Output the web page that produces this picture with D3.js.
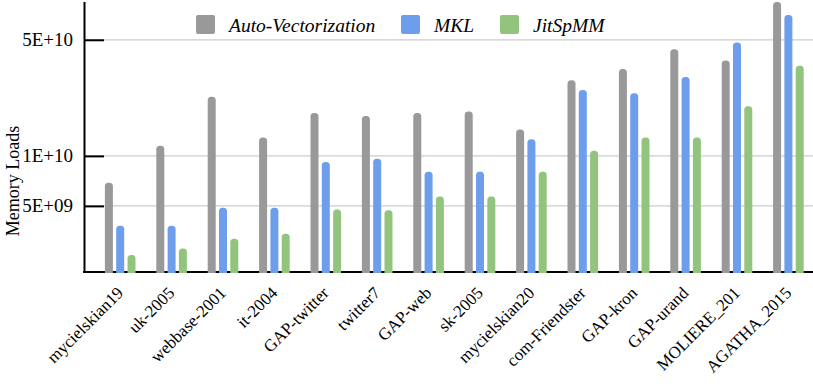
<!DOCTYPE html>
<html><head><meta charset="utf-8">
<script src="https://cdn.jsdelivr.net/npm/d3@7"></script>
<style>body{margin:0;background:#fff}svg{display:block}</style>
</head><body>
<svg id="c" width="813" height="386"></svg>
<script>
const categories = ["mycielskian19","uk-2005","webbase-2001","it-2004","GAP-twitter","twitter7","GAP-web","sk-2005","mycielskian20","com-Friendster","GAP-kron","GAP-urand","MOLIERE_201","AGATHA_2015"];
const seriesNames = ["Auto-Vectorization","MKL","JitSpMM"];
const autoVec = [6.9e9,1.15e10,2.27e10,1.29e10,1.81e10,1.74e10,1.81e10,1.85e10,1.44e10,2.85e10,3.33e10,4.38e10,3.75e10,8.44e10];
const mkl     = [3.8e9,3.8e9,4.88e9,4.88e9,9.18e9,9.62e9,8.03e9,8.03e9,1.26e10,2.49e10,2.38e10,2.98e10,4.81e10,7.05e10];
const jit     = [2.53e9,2.77e9,3.17e9,3.4e9,4.76e9,4.7e9,5.7e9,5.7e9,8.03e9,1.075e10,1.29e10,1.29e10,1.99e10,3.49e10];
const yTicks = [5e9,1e10,5e10];
const yTickLabels = ["5E+09","1E+10","5E+10"];
const colors = ["#999999","#6d9eeb","#93c47d"];
const yTitle = "Memory Loads";

(function(){
const svg = d3.select("#c");
const font = "'Liberation Serif','Times New Roman',serif";
const mLeft = 84, mBottom = 272, mTop = 1.5, mRight = 813;

const y = d3.scaleLog().domain([2e9, 8.5e10]).range([mBottom, mTop]);
const x0 = d3.scaleBand().domain(categories).range([94.5, 94.5 + 14*51.4]).paddingInner(0).paddingOuter(0);
const x1 = d3.scaleBand().domain(seriesNames).range([-15.3, 15.3]).paddingInner(0.292).paddingOuter(0);
const allSeries = [autoVec, mkl, jit];

// gridlines
svg.append("g").selectAll("line").data(yTicks).join("line")
  .attr("x1", mLeft).attr("x2", mRight)
  .attr("y1", d => y(d)).attr("y2", d => y(d))
  .attr("stroke", "#cccccc").attr("stroke-width", 1.3);

// y axis
const yAxis = d3.axisLeft(y).tickValues(yTicks).tickFormat((d,i) => yTickLabels[i]).tickSizeInner(-20).tickSizeOuter(0).tickPadding(11);
const gy = svg.append("g").attr("transform", `translate(${mLeft},0)`).call(yAxis);
gy.select(".domain").attr("stroke", "#000").attr("stroke-width", 2);
gy.selectAll(".tick line").attr("stroke", "#000").attr("stroke-width", 2);
gy.selectAll(".tick text").attr("x", -11).attr("font-family", font).attr("font-size", 19).attr("fill", "#000");

// x axis line
svg.append("line").attr("x1", mLeft - 1).attr("x2", mRight).attr("y1", mBottom).attr("y2", mBottom)
  .attr("stroke", "#000").attr("stroke-width", 2);

// bars
const r = 3.5;
function barPath(xl, w, yt, yb) {
  return `M${xl},${yb}L${xl},${yt+r}Q${xl},${yt} ${xl+r},${yt}L${xl+w-r},${yt}Q${xl+w},${yt} ${xl+w},${yt+r}L${xl+w},${yb}Z`;
}
const groups = svg.append("g").selectAll("g").data(categories).join("g")
  .attr("transform", d => `translate(${x0(d) + x0.bandwidth()/2},0)`);
groups.selectAll("path").data((d, i) => seriesNames.map((s, j) => ({s, j, v: allSeries[j][i]}))).join("path")
  .attr("d", d => barPath(x1(d.s), x1.bandwidth(), y(d.v), mBottom + 1))
  .attr("fill", d => colors[d.j]);

// x labels
svg.append("g").selectAll("text").data(categories).join("text")
  .attr("transform", d => `translate(${x0(d) + x0.bandwidth()/2 + 4},${mBottom + 22}) rotate(-45)`)
  .attr("text-anchor", "end")
  .attr("font-family", font).attr("font-size", 17).attr("fill", "#000")
  .text(d => d);

// y title
svg.append("text").attr("transform", "translate(19,181) rotate(-90)")
  .attr("text-anchor", "middle").attr("font-family", font).attr("font-size", 18).attr("fill", "#000")
  .text(yTitle);

// legend
const legX = [196, 401, 500];
const leg = svg.append("g").selectAll("g").data(seriesNames).join("g")
  .attr("transform", (d, i) => `translate(${legX[i]},15)`);
leg.append("rect").attr("width", 19).attr("height", 19).attr("rx", 2).attr("fill", (d, i) => colors[i]);
leg.append("text").attr("x", 33).attr("y", 16.5)
  .attr("font-family", font).attr("font-style", "italic").attr("font-size", 19.5).attr("fill", "#000")
  .text(d => d);
})();
</script>
</body></html>
